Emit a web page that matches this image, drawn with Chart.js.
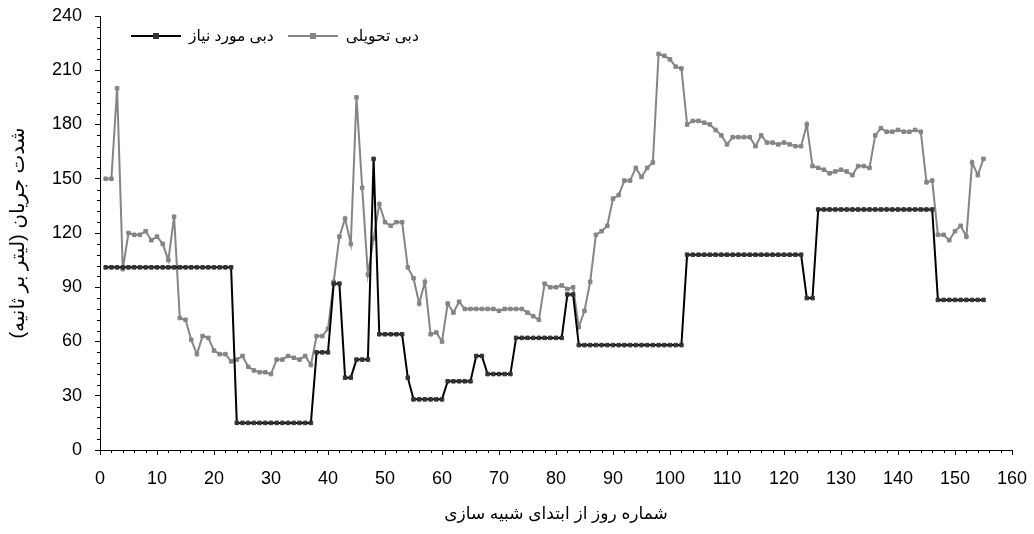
<!DOCTYPE html>
<html>
<head>
<meta charset="utf-8">
<script src="https://cdn.jsdelivr.net/npm/chart.js@4.4.1/dist/chart.umd.min.js"></script>
<style>
  html, body { margin: 0; padding: 0; background: #fff; }
  #wrap { position: relative; width: 1034px; height: 534px; }
  #legend {
    position: absolute; left: 131px; top: 27px;
    display: flex; align-items: center;
    font: 15.5px "Liberation Sans", "DejaVu Sans", sans-serif; color: #000;
  }
  #legend .item { display: flex; align-items: center; margin-right: 14px; }
  #legend .sym { position: relative; display: inline-block; width: 50px; height: 2px; margin-right: 8px; }
  #legend .sym i { position: absolute; left: 22px; top: -2px; width: 6px; height: 6px; }
</style>
</head>
<body>
<div id="wrap">
  <canvas id="myChart" width="1034" height="534"></canvas>
  <div id="legend"></div>
</div>
<script>
// day number since start of simulation
const days = [
  1, 2, 3, 4, 5, 6, 7, 8, 9, 10,
  11, 12, 13, 14, 15, 16, 17, 18, 19, 20,
  21, 22, 23, 24, 25, 26, 27, 28, 29, 30,
  31, 32, 33, 34, 35, 36, 37, 38, 39, 40,
  41, 42, 43, 44, 45, 46, 47, 48, 49, 50,
  51, 52, 53, 54, 55, 56, 57, 58, 59, 60,
  61, 62, 63, 64, 65, 66, 67, 68, 69, 70,
  71, 72, 73, 74, 75, 76, 77, 78, 79, 80,
  81, 82, 83, 84, 85, 86, 87, 88, 89, 90,
  91, 92, 93, 94, 95, 96, 97, 98, 99, 100,
  101, 102, 103, 104, 105, 106, 107, 108, 109, 110,
  111, 112, 113, 114, 115, 116, 117, 118, 119, 120,
  121, 122, 123, 124, 125, 126, 127, 128, 129, 130,
  131, 132, 133, 134, 135, 136, 137, 138, 139, 140,
  141, 142, 143, 144, 145, 146, 147, 148, 149, 150,
  151, 152, 153, 154, 155,
];

// required flow (l/s)
const requiredFlow = [
  101, 101, 101, 101, 101, 101, 101, 101, 101, 101,
  101, 101, 101, 101, 101, 101, 101, 101, 101, 101,
  101, 101, 101, 15, 15, 15, 15, 15, 15, 15,
  15, 15, 15, 15, 15, 15, 15, 54, 54, 54,
  92, 92, 40, 40, 50, 50, 50, 161, 64, 64,
  64, 64, 64, 40, 28, 28, 28, 28, 28, 28,
  38, 38, 38, 38, 38, 52, 52, 42, 42, 42,
  42, 42, 62, 62, 62, 62, 62, 62, 62, 62,
  62, 86, 86, 58, 58, 58, 58, 58, 58, 58,
  58, 58, 58, 58, 58, 58, 58, 58, 58, 58,
  58, 58, 108, 108, 108, 108, 108, 108, 108, 108,
  108, 108, 108, 108, 108, 108, 108, 108, 108, 108,
  108, 108, 108, 84, 84, 133, 133, 133, 133, 133,
  133, 133, 133, 133, 133, 133, 133, 133, 133, 133,
  133, 133, 133, 133, 133, 133, 83, 83, 83, 83,
  83, 83, 83, 83, 83,
];

// delivered flow (l/s)
const deliveredFlow = [
  150, 150, 200, 100, 120, 119, 119, 121, 116, 118,
  114, 105, 129, 73, 72, 61, 53, 63, 62, 55,
  53, 53, 49, 50, 52, 46, 44, 43, 43, 42,
  50, 50, 52, 51, 50, 52, 47, 63, 63, 67,
  93, 118, 128, 114, 195, 145, 97, 117, 136, 126,
  124, 126, 126, 101, 95, 81, 93, 64, 65, 60,
  81, 76, 82, 78, 78, 78, 78, 78, 78, 77,
  78, 78, 78, 78, 76, 74, 72, 92, 90, 90,
  91, 89, 90, 68, 77, 93, 119, 121, 124, 139,
  141, 149, 149, 156, 151, 156, 159, 219, 218, 216,
  212, 211, 180, 182, 182, 181, 180, 177, 174, 169,
  173, 173, 173, 173, 168, 174, 170, 170, 169, 170,
  169, 168, 168, 180, 157, 156, 155, 153, 154, 155,
  154, 152, 157, 157, 156, 174, 178, 176, 176, 177,
  176, 176, 177, 176, 148, 149, 119, 119, 116, 121,
  124, 118, 159, 152, 161,
];

const xRange = [0, 160];
const xStep = 10;
const xMinorStep = 2;
const yRange = [0, 240];
const yStep = 30;
const yMinorStep = 6;

const FONT = '"Liberation Sans", "DejaVu Sans", sans-serif';

const minorTicks = {
  id: "minorTicks",
  afterDraw(chart) {
    const { ctx } = chart;
    const x = chart.scales.x;
    const y = chart.scales.y;
    ctx.save();
    ctx.strokeStyle = "#000";
    ctx.lineWidth = 1;
    ctx.beginPath();
    for (let v = xRange[0]; v <= xRange[1]; v += xMinorStep) {
      if (v % xStep === 0) continue;
      const px = Math.round(x.getPixelForValue(v)) + 0.5;
      ctx.moveTo(px, x.top);
      ctx.lineTo(px, x.top + 3);
    }
    for (let v = yRange[0]; v <= yRange[1]; v += yMinorStep) {
      if (v % yStep === 0) continue;
      const py = Math.round(y.getPixelForValue(v)) + 0.5;
      ctx.moveTo(y.right - 3, py);
      ctx.lineTo(y.right, py);
    }
    ctx.stroke();
    ctx.restore();
  },
};

const htmlLegend = {
  id: "htmlLegend",
  afterUpdate(chart) {
    const box = document.getElementById("legend");
    box.innerHTML = "";
    chart.data.datasets.forEach((ds) => {
      const item = document.createElement("div");
      item.className = "item";
      const sym = document.createElement("span");
      sym.className = "sym";
      sym.style.background = ds.borderColor;
      const mk = document.createElement("i");
      mk.style.background = ds.pointBackgroundColor;
      sym.appendChild(mk);
      const txt = document.createElement("span");
      txt.dir = "rtl";
      txt.textContent = ds.label;
      item.append(sym, txt);
      box.appendChild(item);
    });
  },
};

const ctx = document.getElementById("myChart");

const myChart = new Chart(ctx, {
  type: "line",
  data: {
    datasets: [
      {
        label: "دبی مورد نیاز",
        data: days.map((d, i) => ({ x: d, y: requiredFlow[i] })),
        borderColor: "#000",
        borderWidth: 2,
        pointStyle: "rect",
        pointRadius: 2.5,
        pointBackgroundColor: "#333",
        pointBorderColor: "#333",
        pointBorderWidth: 1,
        tension: 0,
      },
      {
        label: "دبی تحویلی",
        data: days.map((d, i) => ({ x: d, y: deliveredFlow[i] })),
        borderColor: "#858585",
        borderWidth: 2,
        pointStyle: "rect",
        pointRadius: 2.5,
        pointBackgroundColor: "#858585",
        pointBorderColor: "#858585",
        pointBorderWidth: 1,
        tension: 0,
      },
    ],
  },
  options: {
    responsive: false,
    animation: false,
    devicePixelRatio: 1,
    layout: { padding: { top: 16, right: 22, left: 0, bottom: 0 } },
    plugins: {
      legend: { display: false },
      tooltip: { enabled: false },
    },
    scales: {
      x: {
        type: "linear",
        min: xRange[0],
        max: xRange[1],
        afterFit: (s) => {
          s.height = 84;
          s.paddingLeft = 0;
          s.paddingRight = 0;
        },
        ticks: {
          stepSize: xStep,
          autoSkip: false,
          maxRotation: 0,
          padding: 13,
          color: "#000",
          font: { family: FONT, size: 18 },
        },
        grid: { drawOnChartArea: false, tickLength: 5, tickColor: "#000" },
        border: { color: "#000", width: 1 },
        title: {
          display: true,
          text: "شماره روز از ابتدای شبیه سازی",
          color: "#000",
          font: { family: FONT, size: 17 },
          padding: { top: 0, bottom: 9 },
        },
      },
      y: {
        min: yRange[0],
        max: yRange[1],
        afterFit: (s) => {
          s.width = 100;
          s.paddingTop = 0;
          s.paddingBottom = 0;
        },
        ticks: {
          stepSize: yStep,
          padding: 13,
          color: "#000",
          font: { family: FONT, size: 18 },
        },
        grid: { drawOnChartArea: false, tickLength: 5, tickColor: "#000" },
        border: { color: "#000", width: 1 },
        title: {
          display: true,
          text: "\u200Fشدت جریان (لیتر بر ثانیه)\u200F",
          color: "#000",
          font: { family: FONT, size: 20 },
          padding: { top: 6, bottom: 0 },
        },
      },
    },
  },
  plugins: [minorTicks, htmlLegend],
});
</script>
</body>
</html>
